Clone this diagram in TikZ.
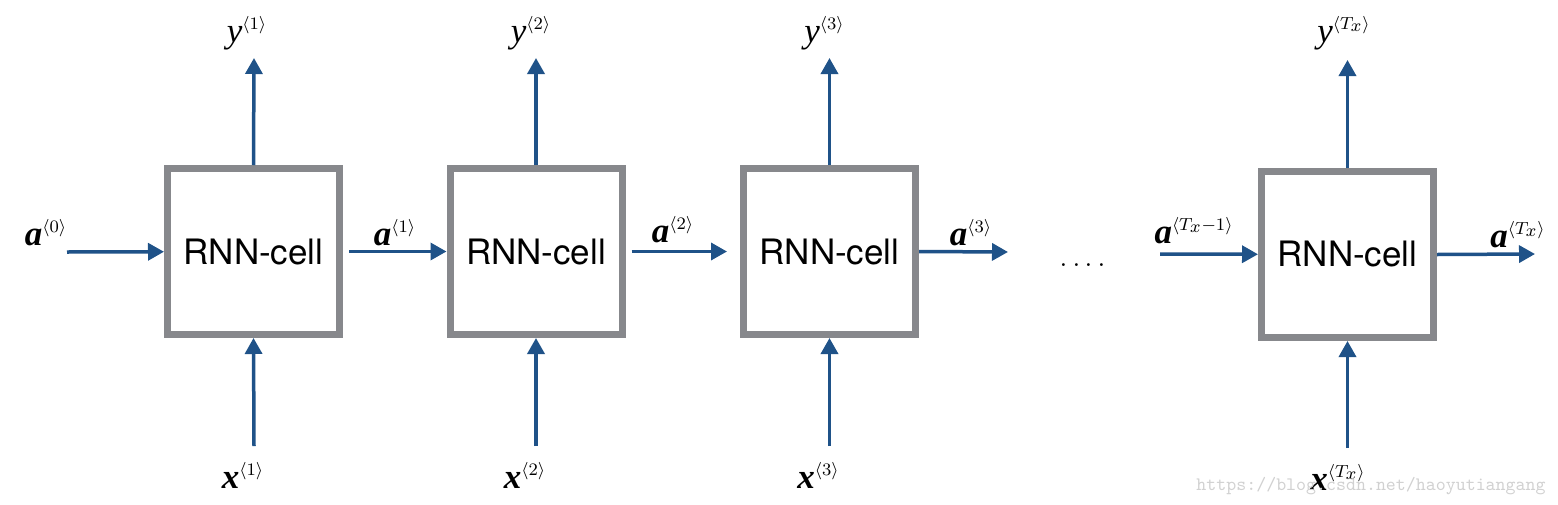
\RequirePackage{fix-cm}
\documentclass[tikz,border=0pt]{standalone}
\usepackage{amssymb, amsmath}
\usepackage{fontspec}
\usepackage{tikz}
\usetikzlibrary{arrows.meta}
\newfontfamily\cellfont{TeX Gyre Heros}
\newfontfamily\lblfont{Liberation Serif}
\definecolor{rnnblue}{HTML}{1F5288}
\definecolor{rnngray}{HTML}{87888C}
% bold italic letter with a step index
\newcommand{\bstep}[2]{$\mbox{\lblfont\bfseries\itshape #1}^{\scriptscriptstyle\langle #2\rangle}$}
\newcommand{\istep}[2]{$\mbox{\lblfont\itshape #1}^{\scriptscriptstyle\langle #2\rangle}$}
\tikzset{
    cell/.style={draw=rnngray, line width=3.5pt, minimum width=86pt, minimum height=83pt,
        inner sep=0pt, font=\cellfont\fontsize{17.5}{20}\selectfont},
    flow/.style={draw=rnnblue, line width=1.75pt, -{Triangle[length=8pt, width=8.5pt]}},
    lbl/.style={inner sep=0pt, anchor=base, font=\fontsize{17.5}{20}\selectfont},
}

\begin{document}
\begin{tikzpicture}[x=0.5pt, y=-0.5pt]
        \useasboundingbox (0,0) rectangle (1558,504);

        % the cells
        \node[cell] (cell1) at (253.5,251.5) {RNN-cell};
        \node[cell] (cell2) at (536,251.5) {RNN-cell};
        \node[cell] (cell3) at (829.5,251.5) {RNN-cell};
        \node[cell] (cell4) at (1347.5,254.5) {RNN-cell};

        % free ends of the arrows
        \coordinate (a0start) at (67,252);
        \coordinate (a3end) at (1008,252);
        \coordinate (a4start) at (1160,254);
        \coordinate (a5end) at (1535,254);

        \coordinate (y1tip) at (254,58);
        \coordinate (y2tip) at (536,58);
        \coordinate (y3tip) at (829.5,58);
        \coordinate (y4tip) at (1347.5,60);

        \coordinate (x1start) at (254,446);
        \coordinate (x2start) at (536,446);
        \coordinate (x3start) at (829.5,446);
        \coordinate (x4start) at (1347.5,448);

        % hidden state
        \draw[flow] (a0start) -- (cell1);
        \draw[flow, shorten <=3pt] (cell1) -- (cell2);
        \draw[flow, shorten <=3pt, shorten >=6.5pt] (cell2) -- (cell3);
        \draw[flow] (cell3.east) -- (a3end);
        \draw[flow] (a4start) -- (cell4);
        \draw[flow] (cell4.east) -- (a5end);

        % outputs
        \draw[flow] (cell1.north) -- (y1tip);
        \draw[flow] (cell2.north) -- (y2tip);
        \draw[flow] (cell3.north) -- (y3tip);
        \draw[flow] (cell4.north) -- (y4tip);

        % inputs
        \draw[flow] (x1start) -- (cell1.south);
        \draw[flow] (x2start) -- (cell2.south);
        \draw[flow] (x3start) -- (cell3.south);
        \draw[flow] (x4start) -- (cell4.south);

        % labels
        \node[lbl] (a0) at (46,245) {\bstep{a}{0}};
        \node[lbl] (a1) at (395,245) {\bstep{a}{1}};
        \node[lbl] (a2) at (673,242) {\bstep{a}{2}};
        \node[lbl] (a3) at (971,245) {\bstep{a}{3}};
        \node[lbl] (a4) at (1194,243) {\bstep{a}{T_x-1}};
        \node[lbl] (a5) at (1518,247) {\bstep{a}{T_x}};

        \node[lbl] (y1) at (247,42) {\istep{y}{1}};
        \node[lbl] (y2) at (531,42) {\istep{y}{2}};
        \node[lbl] (y3) at (824.5,42) {\istep{y}{3}};
        \node[lbl] (y4) at (1344,42) {\istep{y}{T_x}};

        \node[lbl] (x1) at (243,488) {\bstep{x}{1}};
        \node[lbl] (x2) at (525,488) {\bstep{x}{2}};
        \node[lbl] (x3) at (818.5,488) {\bstep{x}{3}};
        \node[lbl] (x4) at (1338,490) {\bstep{x}{T_x}};

        \node[lbl] (dots) at (1083,266) {.\kern2pt.\kern2pt.\kern2pt.};

        \node[inner sep=0pt, text=black!18, font=\ttfamily\fontsize{9.5}{11}\selectfont] (watermark) at (1371,486) {https://blog.csdn.net/haoyutiangang};
    \end{tikzpicture}
\end{document}
